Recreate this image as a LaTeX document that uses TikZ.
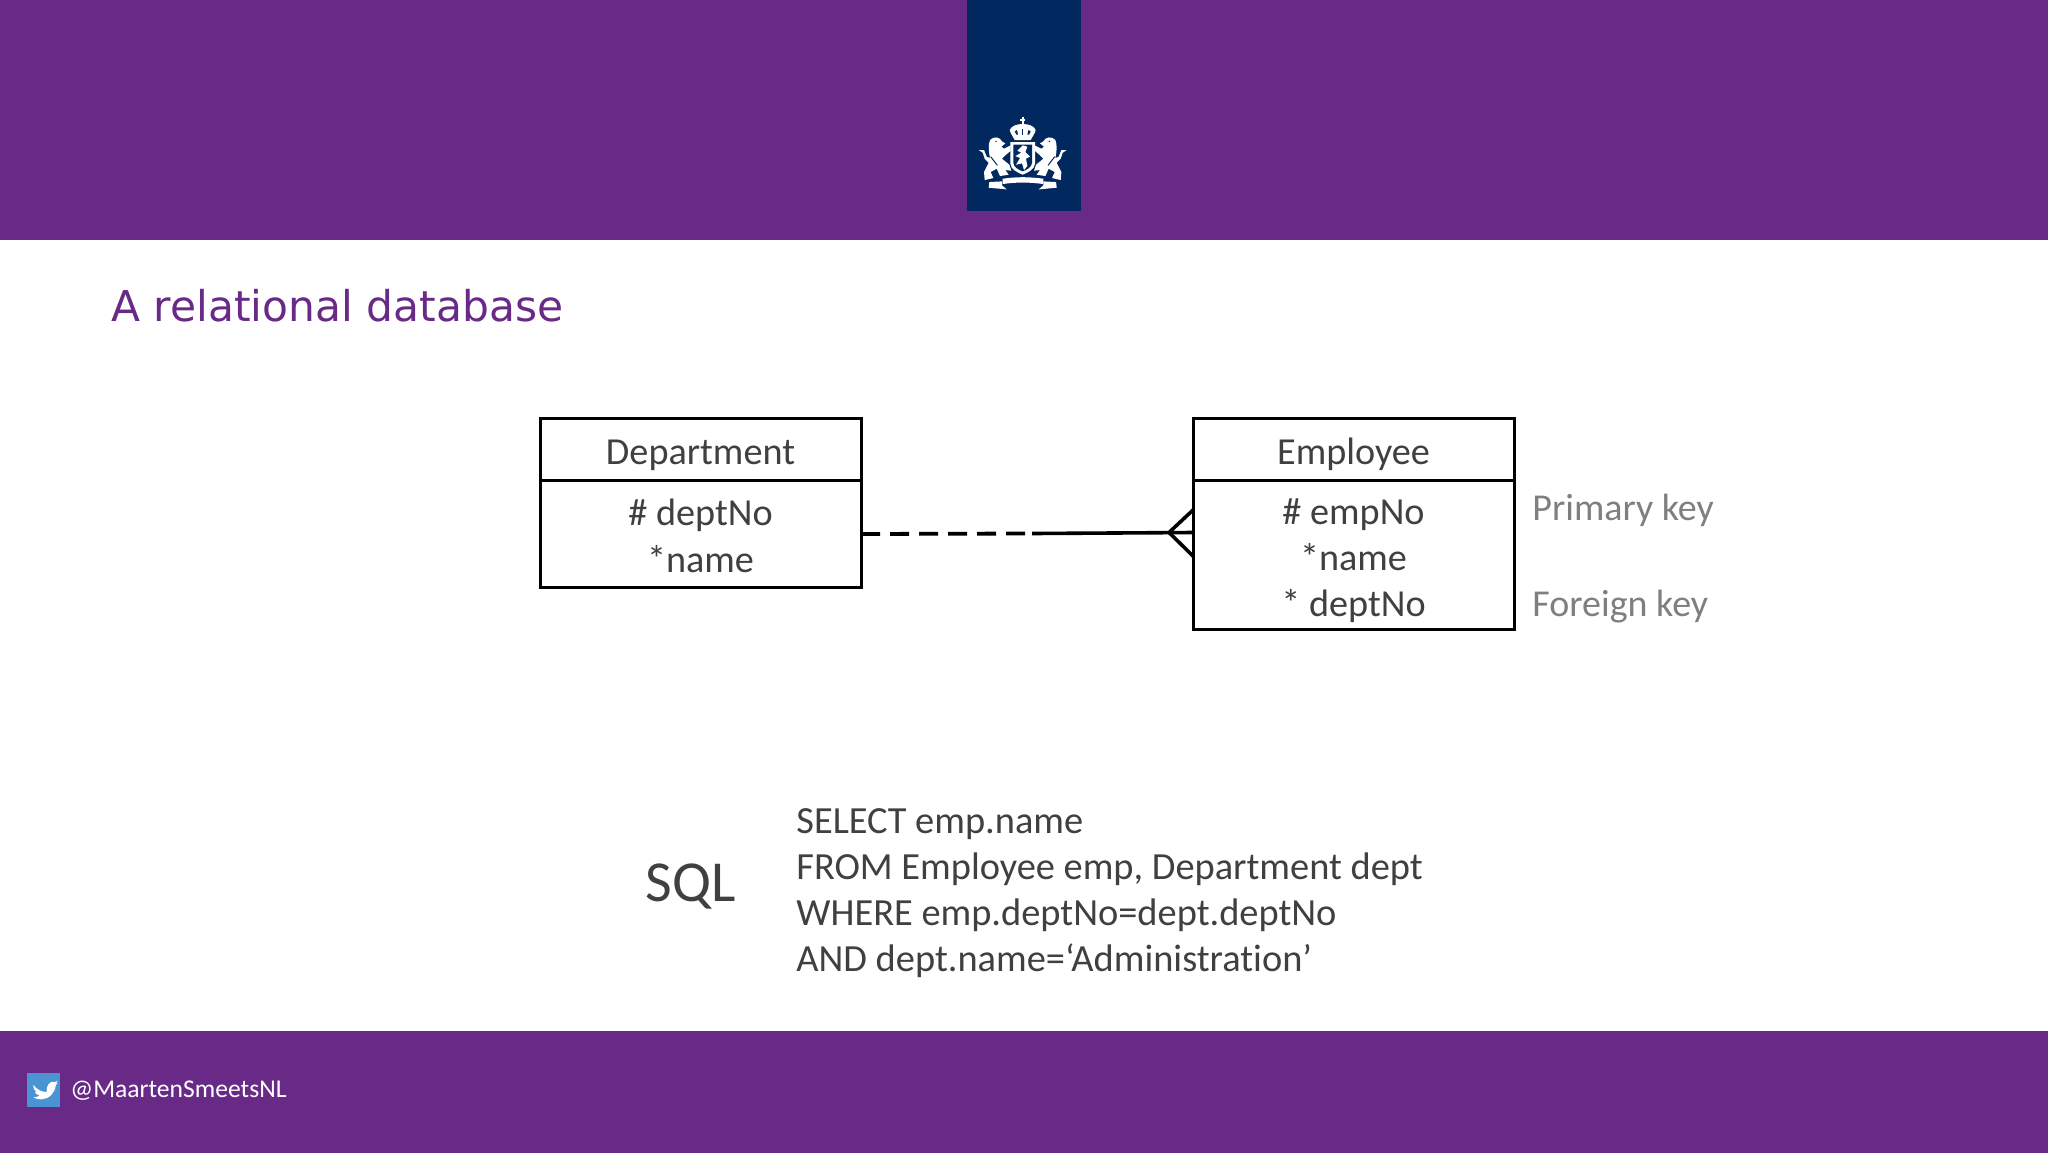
\documentclass[tikz,border=0pt]{standalone}
\usepackage{fontspec}
\setmainfont[Ligatures=NoCommon]{Carlito}
\newfontfamily\titlefont{DejaVu Sans}
\definecolor{bandpurple}{HTML}{692A87}
\definecolor{navyband}{HTML}{01295F}
\definecolor{inkgrey}{HTML}{404040}
\definecolor{keygrey}{HTML}{7F7F7F}
\definecolor{twblue}{HTML}{4A94D4}
\tikzset{
  umlbox/.style={draw=black,line width=1.5pt,fill=white,minimum width=160.5pt,inner sep=0pt,outer sep=0pt},
  boxtext/.style={anchor=base,text=inkgrey,font=\fontsize{19.1}{19.1}\selectfont,inner sep=0pt},
  keytext/.style={anchor=base west,text=keygrey,font=\fontsize{19}{19}\selectfont,inner sep=0pt},
  sqltext/.style={anchor=base west,text=inkgrey,font=\fontsize{19.2}{19.2}\selectfont,inner sep=0pt},
  conn/.style={draw=black,line width=1.8pt},
  crest/.style={fill=white,draw=none},
}
\begin{document}
\begin{tikzpicture}[x=0.5pt,y=-0.5pt]
\useasboundingbox (0,0) rectangle (2048,1152);
\fill[white] (0,0) rectangle (2048,1152);
\fill[bandpurple] (0,0) rectangle (2048,239.5);
\fill[bandpurple] (0,1031) rectangle (2048,1156);
\fill[navyband] (967,0) rectangle (1081,211);
% crest
\begin{scope}[shift={(940,0)},x=0.1667pt,y=-0.1667pt]
  % cross and crown
  \fill[crest] (245,350) rectangle (251,376);
  \fill[crest] (240,358) rectangle (256,363);
  \fill[crest] (248,372) .. controls (228,372) and (215,378) .. (209,390)
     .. controls (212,402) and (218,408) .. (224,420) -- (272,420)
     .. controls (278,408) and (284,402) .. (287,390)
     .. controls (281,378) and (268,372) .. (248,372) -- cycle;
  \fill[navyband] (224,394) -- (231,390) -- (234,404) -- (229,404) -- cycle;
  \fill[navyband] (272,394) -- (265,390) -- (262,404) -- (267,404) -- cycle;
  \fill[navyband] (246,388) rectangle (250,404);
  % shield
  \fill[crest] (211,426) -- (285,426) -- (285,490)
     .. controls (285,508) and (262,518) .. (248,524)
     .. controls (234,518) and (211,508) .. (211,490) -- cycle;
  \fill[navyband] (220,434) -- (276,434) -- (276,488)
     .. controls (276,502) and (258,510) .. (248,514)
     .. controls (238,510) and (220,502) .. (220,488) -- cycle;
  \fill[crest] (232,452) -- (248,436) -- (262,440) -- (256,456) -- (270,470)
     -- (258,476) -- (262,498) -- (252,510) -- (246,490) -- (228,494)
     -- (240,474) -- (226,468) -- (244,458) -- cycle;
  % ribbon
  \fill[crest] (188,536) .. controls (230,530) and (266,530) .. (310,536)
     -- (310,552) .. controls (266,546) and (230,546) .. (188,552) -- cycle;
  \fill[crest] (148,546) -- (186,544) -- (186,556) -- (200,568) -- (146,563) -- cycle;
  \fill[crest] (348,546) -- (310,544) -- (310,556) -- (296,568) -- (350,563) -- cycle;
  % lions
  \foreach \m/\o in {1/0,-1/496}{
  \begin{scope}[cm={\m,0,0,1,(\o*0.1667pt,0)}]
    \fill[crest] (150,420) .. controls (160,408) and (180,410) .. (186,424)
       -- (196,430) -- (184,440) -- (192,446) -- (212,436) -- (212,452)
       -- (196,466) -- (186,476) -- (208,494) -- (214,512) -- (196,510)
       -- (206,524) -- (180,528) -- (170,506) -- (152,516) -- (160,534)
       -- (134,540) -- (132,516) -- (146,488) -- (134,476) -- (128,458)
       -- (116,450) -- (132,450) -- (140,470) -- (150,474)
       .. controls (146,455) and (144,435) .. (150,420) -- cycle;
    \fill[navyband] (168,424) circle (2.5);
    \draw[navyband,line width=0.5pt] (152,470) -- (172,496);
  \end{scope}}
\end{scope}
% title
\node[anchor=base west,inner sep=0pt,text=bandpurple,font=\titlefont\fontsize{21.2}{21.2}\selectfont] (title) at (111,321) {A relational database};
% entities
\node[umlbox,anchor=north west,minimum height=31pt] (depthead) at (540,418.5) {};
\node[umlbox,anchor=north west,minimum height=53.5pt] (deptbody) at (540,480.5) {};
\node[umlbox,anchor=north west,minimum height=31pt] (emphead) at (1193,418.5) {};
\node[umlbox,anchor=north west,minimum height=74.5pt] (empbody) at (1193,480.5) {};
\node[boxtext] (t1) at (700.5,464) {Department};
\node[boxtext] (t2) at (700.5,525) {\# deptNo};
\node[boxtext] (t3) at (700.5,572) {*name};
\node[boxtext] (t4) at (1353.5,464) {Employee};
\node[boxtext] (t5) at (1353.5,524) {\# empNo};
\node[boxtext] (t6) at (1353.5,570) {*name};
\node[boxtext] (t7) at (1353.5,616) {* deptNo};
\node[keytext] (pk) at (1532,520.5) {Primary key};
\node[keytext] (fk) at (1532,616.5) {Foreign key};
% connector
\coordinate (mid) at (1032,533.5);
\coordinate (foot) at (1169,532.5);
\coordinate (footTop) at (1193,510);
\coordinate (footBot) at (1193,556);
\coordinate (footEnd) at (1193,532.5);
\draw[conn,line width=1.9pt,dash pattern=on 9.5pt off 5pt] (deptbody.east) -- (mid);
\draw[conn] (mid) -- (footEnd);
\draw[conn] (footTop) -- (foot) -- (footBot);
% sql
\node[anchor=base west,inner sep=0pt,text=inkgrey,font=\fontsize{29}{29}\selectfont] (sql) at (645,901) {SQL};
\node[sqltext] (q1) at (796,833) {SELECT emp.name};
\node[sqltext] (q2) at (796,879) {FROM Employee emp, Department dept};
\node[sqltext] (q3) at (796,925) {WHERE emp.deptNo=dept.deptNo};
\node[sqltext] (q4) at (796,971) {AND dept.name=‘Administration’};
% footer
\fill[twblue] (27,1073) rectangle (60,1107);
\begin{scope}[shift={(0,1030)},x=0.1667pt,y=-0.1667pt]
  \fill[white] (100,165) .. controls (112,180) and (126,186) .. (140,186)
    .. controls (137,168) and (150,150) .. (165,156)
    -- (172,152) -- (168,160) -- (173,158) -- (167,166)
    .. controls (166,188) and (146,208) .. (124,208)
    .. controls (116,208) and (106,206) .. (100,202)
    .. controls (108,202) and (114,200) .. (119,196)
    .. controls (112,195) and (106,191) .. (104,185)
    -- (111,185) .. controls (103,181) and (100,176) .. (100,169) -- cycle;
\end{scope}
\node[anchor=base west,inner sep=0pt,text=white,font=\fontsize{12.8}{12.8}\selectfont] (handle) at (70,1097) {@MaartenSmeetsNL};
\end{tikzpicture}
\end{document}
